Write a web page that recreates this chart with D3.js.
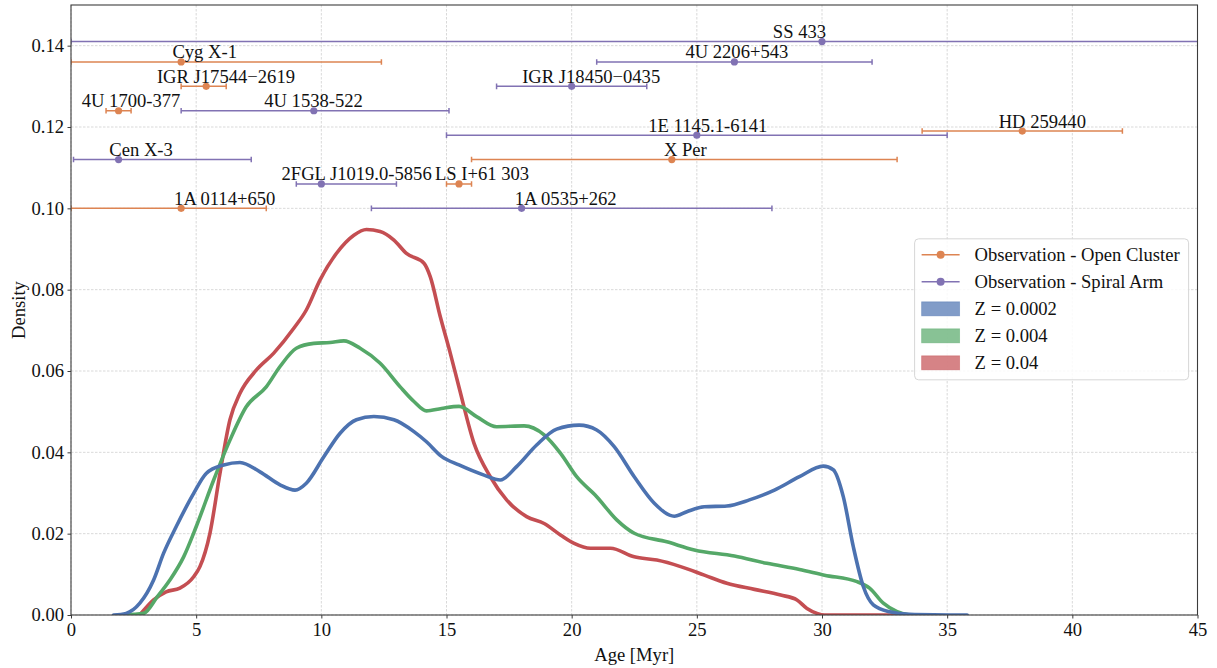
<!DOCTYPE html>
<html>
<head>
<meta charset="utf-8">
<script src="https://cdn.jsdelivr.net/npm/d3@7"></script>
<style>
  body { margin: 0; background: #ffffff; }
  svg { display: block; }
  text { font-family: "Liberation Serif", "Times New Roman", Times, serif; fill: #111; }
</style>
</head>
<body>
<svg id="chart" width="1217" height="668"></svg>
<script>
// ---- Age density curves, one per metallicity ----
const ageZ0002 = [1.7, 2.2, 2.75, 3.3, 3.7, 4.2, 4.9, 5.4, 6.1, 6.75, 7.55, 8.35, 8.95, 9.4, 10.1, 10.75, 11.4, 12.1, 12.9, 13.7, 14.2, 14.8, 15.5, 16.5, 17.15, 17.8, 18.6, 19.4, 20.3, 21.0, 21.7, 22.5, 23.3, 24.1, 24.6, 25.3, 26.2, 27.1, 28.1, 29.1, 30.05, 30.45, 30.85, 31.25, 31.65, 32.05, 32.7, 33.5, 35.8];
const densZ0002 = [0, 0.0004, 0.0029, 0.0086, 0.0152, 0.0217, 0.0299, 0.0348, 0.0369, 0.0375, 0.0352, 0.0320, 0.0307, 0.0324, 0.0389, 0.0447, 0.0480, 0.0488, 0.0480, 0.0451, 0.0426, 0.0390, 0.0369, 0.0344, 0.0332, 0.0365, 0.0418, 0.0457, 0.0467, 0.0455, 0.0414, 0.0340, 0.0275, 0.0243, 0.0254, 0.0266, 0.0268, 0.0283, 0.0307, 0.0340, 0.0366, 0.0357, 0.0291, 0.0168, 0.0070, 0.0025, 0.0008, 0.0002, 0];

const ageZ004 = [2.1, 2.9, 3.45, 3.95, 4.5, 5.0, 5.7, 6.35, 7.0, 7.8, 8.35, 9.0, 9.7, 10.35, 10.9, 11.55, 12.35, 13.15, 13.7, 14.2, 14.8, 15.5, 16.2, 17.0, 18.1, 18.9, 19.55, 20.2, 21.0, 21.8, 22.5, 23.8, 24.9, 26.5, 27.8, 29.1, 30.1, 31.4, 31.9, 32.45, 33.0, 33.5];
const densZ004 = [0, 0.0004, 0.0045, 0.0086, 0.0143, 0.0217, 0.0332, 0.0430, 0.0512, 0.0561, 0.0611, 0.0656, 0.0668, 0.0670, 0.0674, 0.0656, 0.0619, 0.0561, 0.0525, 0.0502, 0.0508, 0.0513, 0.0488, 0.0463, 0.0465, 0.0443, 0.0398, 0.0340, 0.0291, 0.0234, 0.0201, 0.0180, 0.0160, 0.0145, 0.0127, 0.0112, 0.0098, 0.0082, 0.0066, 0.0029, 0.0008, 0];

const ageZ04 = [2.75, 3.3, 3.8, 4.35, 4.9, 5.15, 5.55, 5.95, 6.35, 6.75, 7.4, 8.1, 8.9, 9.4, 9.95, 10.6, 11.3, 11.8, 12.35, 12.9, 13.4, 14.1, 14.35, 14.75, 15.15, 15.5, 16.1, 16.75, 17.4, 18.2, 18.9, 19.55, 20.1, 20.75, 21.55, 22.5, 23.4, 24.35, 25.3, 26.2, 27.3, 28.35, 29.0, 29.4, 29.8, 30.1, 33.0];
const densZ04 = [0, 0.0037, 0.0057, 0.0066, 0.0094, 0.0119, 0.0201, 0.0348, 0.0480, 0.0545, 0.0602, 0.0644, 0.0705, 0.0750, 0.0824, 0.0889, 0.0934, 0.0948, 0.0943, 0.0922, 0.0889, 0.0865, 0.0832, 0.0734, 0.0644, 0.0560, 0.0422, 0.0340, 0.0283, 0.0242, 0.0225, 0.0197, 0.0176, 0.0164, 0.0164, 0.0143, 0.0135, 0.0119, 0.0098, 0.0078, 0.0063, 0.0049, 0.0037, 0.0016, 0.0004, 0, 0];

const seriesNames = ["Z = 0.0002", "Z = 0.004", "Z = 0.04"];

// ---- Observed systems: age estimate with range, drawn at a fixed height ----
const obsNames = ["SS 433", "Cyg X-1", "4U 2206+543", "IGR J17544\u22122619", "IGR J18450\u22120435", "4U 1700-377", "4U 1538-522", "HD 259440", "1E 1145.1-6141", "Cen X-3", "X Per", "2FGL J1019.0-5856", "LS I+61 303", "1A 0114+650", "1A 0535+262"];
const obsAge   = [30.0, 4.4, 26.5, 5.4, 20.0, 1.9, 9.7, 38.0, 25.0, 1.9, 24.0, 10.0, 15.5, 4.4, 18.0];
const obsLow   = [0.0, 0.0, 21.0, 4.4, 17.0, 1.4, 4.4, 34.0, 15.0, 0.1, 16.0, 9.0, 15.0, 0.0, 12.0];
const obsHigh  = [60.0, 12.4, 32.0, 6.2, 23.0, 2.4, 15.1, 42.0, 35.0, 7.2, 33.0, 13.0, 16.0, 7.8, 28.0];
const obsLevel = [0.141, 0.136, 0.136, 0.130, 0.130, 0.124, 0.124, 0.119, 0.118, 0.112, 0.112, 0.106, 0.106, 0.100, 0.100];
const obsKind  = ["Spiral Arm", "Open Cluster", "Spiral Arm", "Open Cluster", "Spiral Arm", "Open Cluster", "Spiral Arm", "Open Cluster", "Spiral Arm", "Spiral Arm", "Open Cluster", "Spiral Arm", "Open Cluster", "Open Cluster", "Spiral Arm"];
// annotation anchor (age) for each name label
const labelAge = [29.1, 5.34, 26.6, 6.19, 20.78, 2.4, 9.69, 38.8, 25.44, 2.8, 24.54, 11.41, 16.42, 6.14, 19.76];

const xTicks = [0, 5, 10, 15, 20, 25, 30, 35, 40, 45];
const yTicks = [0.00, 0.02, 0.04, 0.06, 0.08, 0.10, 0.12, 0.14];

// ---- layout ----
const W = 1217, H = 668;
const FS = 18.6;
const margin = { left: 71, right: 19.5, top: 5, bottom: 53 };
const innerW = W - margin.left - margin.right;
const innerH = H - margin.top - margin.bottom;

const lineColors = { "Z = 0.0002": "#4c72b0", "Z = 0.004": "#55a868", "Z = 0.04": "#c44e52" };
const obsColors = { "Open Cluster": "#dd8452", "Spiral Arm": "#8172b3" };

const svg = d3.select("#chart");
const g = svg.append("g").attr("transform", `translate(${margin.left},${margin.top})`);

const x = d3.scaleLinear().domain([0, 45]).range([0, innerW]);
const y = d3.scaleLinear().domain([0, 0.15]).range([innerH, 0]);

g.append("clipPath").attr("id", "plotClip")
  .append("rect").attr("width", innerW).attr("height", innerH);

// grid
const grid = g.append("g").attr("class", "grid");
grid.selectAll("line.gx").data(xTicks).join("line")
  .attr("x1", d => x(d)).attr("x2", d => x(d))
  .attr("y1", 0).attr("y2", innerH)
  .attr("stroke", "#cfcfcf").attr("stroke-width", 0.8).attr("stroke-dasharray", "2.5,1.5");
grid.selectAll("line.gy").data(yTicks).join("line")
  .attr("x1", 0).attr("x2", innerW)
  .attr("y1", d => y(d)).attr("y2", d => y(d))
  .attr("stroke", "#cfcfcf").attr("stroke-width", 0.8).attr("stroke-dasharray", "2.5,1.5");

// density curves (drawn high-Z first)
const curves = [
  { name: seriesNames[2], ages: ageZ04, dens: densZ04 },
  { name: seriesNames[1], ages: ageZ004, dens: densZ004 },
  { name: seriesNames[0], ages: ageZ0002, dens: densZ0002 }
];
const line = d3.line()
  .x(d => x(d[0])).y(d => y(d[1]))
  .curve(d3.curveMonotoneX);
const plot = g.append("g").attr("clip-path", "url(#plotClip)");
curves.forEach(c => {
  plot.append("path")
    .datum(d3.zip(c.ages, c.dens))
    .attr("d", line)
    .attr("fill", "none")
    .attr("stroke", lineColors[c.name])
    .attr("stroke-width", 3.6)
    .attr("stroke-linejoin", "round")
    .attr("stroke-linecap", "round");
});

// error bars with markers
const obs = obsNames.map((n, i) => ({
  name: n, age: obsAge[i], lo: obsLow[i], hi: obsHigh[i],
  level: obsLevel[i], kind: obsKind[i], lab: labelAge[i]
}));
const eb = plot.append("g");
obs.forEach(o => {
  const c = obsColors[o.kind];
  const yy = y(o.level);
  eb.append("line")
    .attr("x1", x(o.lo)).attr("x2", x(o.hi)).attr("y1", yy).attr("y2", yy)
    .attr("stroke", c).attr("stroke-width", 1.5);
  [o.lo, o.hi].forEach(v => {
    eb.append("line")
      .attr("x1", x(v)).attr("x2", x(v)).attr("y1", yy - 2.8).attr("y2", yy + 2.8)
      .attr("stroke", c).attr("stroke-width", 1.5);
  });
  eb.append("circle").attr("cx", x(o.age)).attr("cy", yy).attr("r", 3.6).attr("fill", c);
});
g.append("g").selectAll("text").data(obs).join("text")
  .attr("x", d => x(d.lab))
  .attr("y", d => y(d.level) - 3.5)
  .attr("text-anchor", "middle")
  .attr("font-size", FS)
  .text(d => d.name);

// frame
g.append("rect").attr("width", innerW).attr("height", innerH)
  .attr("fill", "none").attr("stroke", "#3c3c3c").attr("stroke-width", 1.1);

// axes
const xAxis = d3.axisBottom(x).tickValues(xTicks).tickSize(3.5).tickPadding(3.5).tickFormat(d3.format("d"));
const yAxis = d3.axisLeft(y).tickValues(yTicks).tickSize(3.5).tickPadding(3.5).tickFormat(d3.format(".2f"));
const gx = g.append("g").attr("transform", `translate(0,${innerH})`).call(xAxis);
const gy = g.append("g").call(yAxis);
[gx, gy].forEach(a => {
  a.select(".domain").remove();
  a.selectAll(".tick line").attr("stroke", "#3c3c3c").attr("stroke-width", 1);
  a.selectAll(".tick text").attr("font-size", FS)
    .attr("font-family", "'Liberation Serif', 'Times New Roman', serif").attr("fill", "#111");
});
gx.selectAll(".tick text").attr("dy", "0.76em");

// axis titles
g.append("text").attr("x", innerW / 2).attr("y", innerH + 46)
  .attr("text-anchor", "middle").attr("font-size", FS).text("Age [Myr]");
g.append("text")
  .attr("transform", `translate(${-46},${innerH / 2}) rotate(-90)`)
  .attr("text-anchor", "middle").attr("font-size", FS).text("Density");

// legend
const lg = g.append("g").attr("transform", `translate(${x(33.7)},${y(0.0925)})`);
lg.append("rect").attr("width", 274).attr("height", 141).attr("rx", 4)
  .attr("fill", "#ffffff").attr("fill-opacity", 0.85)
  .attr("stroke", "#d6d6d6").attr("stroke-width", 1);
const legendItems = [
  { type: "obs", label: "Observation - Open Cluster", color: obsColors["Open Cluster"] },
  { type: "obs", label: "Observation - Spiral Arm", color: obsColors["Spiral Arm"] },
  { type: "patch", label: seriesNames[0], color: lineColors[seriesNames[0]] },
  { type: "patch", label: seriesNames[1], color: lineColors[seriesNames[1]] },
  { type: "patch", label: seriesNames[2], color: lineColors[seriesNames[2]] }
];
legendItems.forEach((it, i) => {
  const cy = 16 + i * 27;
  const row = lg.append("g").attr("transform", `translate(0,${cy})`);
  if (it.type === "obs") {
    row.append("line").attr("x1", 7).attr("x2", 45).attr("y1", 0).attr("y2", 0)
      .attr("stroke", it.color).attr("stroke-width", 1.5);
    row.append("circle").attr("cx", 26).attr("cy", 0).attr("r", 4).attr("fill", it.color);
  } else {
    row.append("rect").attr("x", 7).attr("y", -7).attr("width", 38).attr("height", 14)
      .attr("fill", it.color).attr("fill-opacity", 0.7)
      .attr("stroke", it.color).attr("stroke-opacity", 0.5).attr("stroke-width", 0.8);
  }
  row.append("text").attr("x", 60).attr("y", 0).attr("dy", "0.33em")
    .attr("font-size", FS).text(it.label);
});
</script>
</body>
</html>
